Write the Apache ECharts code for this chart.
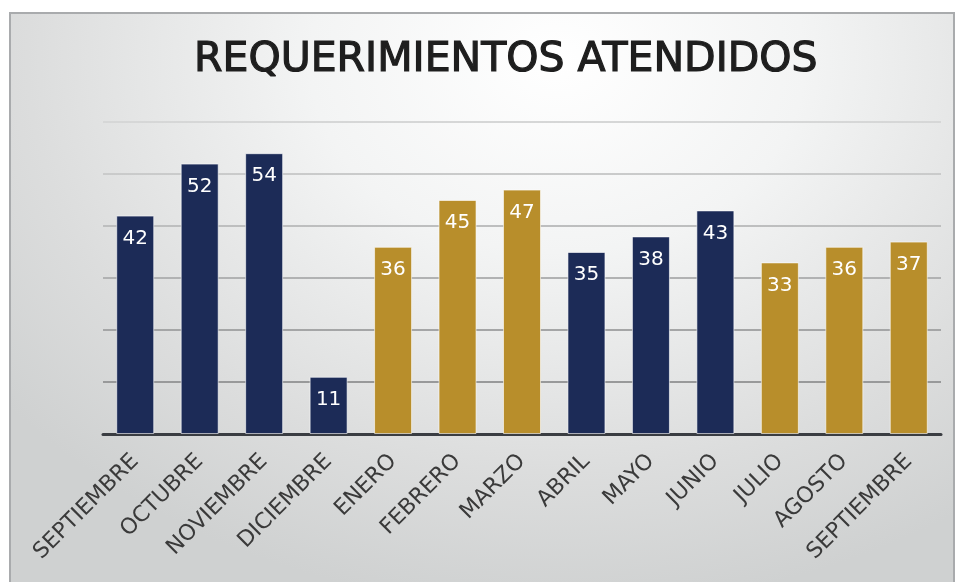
<!DOCTYPE html>
<html>
<head>
<meta charset="utf-8">
<script src="https://cdn.jsdelivr.net/npm/echarts@6/dist/echarts.min.js"></script>
<style>
  html, body { margin: 0; padding: 0; background: #fff; }
  #frame {
    position: absolute; left: 9px; top: 12px; width: 946px; height: 580px;
    border: 2px solid #a9abad; border-bottom: none; box-sizing: border-box;
    background: radial-gradient(ellipse 75% 95% at 58% 8%, #ffffff 0%, #f3f4f4 35%, #dcdddd 75%, #cfd1d1 100%);
  }
  #chart { position: absolute; left: 0; top: 0; width: 958px; height: 582px; }
</style>
</head>
<body>
<div id="frame"></div>
<div id="chart"></div>
<script>
  // meses y valores
  var months = ["SEPTIEMBRE", "OCTUBRE", "NOVIEMBRE", "DICIEMBRE", "ENERO", "FEBRERO",
    "MARZO", "ABRIL", "MAYO", "JUNIO", "JULIO", "AGOSTO", "SEPTIEMBRE"];
  var values = [42, 52, 54, 11, 36, 45, 47, 35, 38, 43, 33, 36, 37];
  // color de cada barra: 0 = azul, 1 = dorado
  var colorGroup = [0, 0, 0, 0, 1, 1, 1, 0, 0, 0, 1, 1, 1];
  var palette = ["#1c2b57", "#b88e2b"];

  var myChart = echarts.init(document.getElementById("chart"));
  var option = {
    backgroundColor: "transparent",
    animation: false,
    title: {
      text: "REQUERIMIENTOS ATENDIDOS",
      left: 189,
      top: 35,
      textStyle: {
        fontFamily: "DejaVu Sans",
        fontWeight: "normal",
        fontSize: 41,
        color: "#1e1e1e",
        textBorderColor: "#1e1e1e",
        textBorderWidth: 1.2,
      },
    },
    grid: { left: 103, right: 17, top: 122, bottom: 148 },
    xAxis: {
      type: "category",
      data: months,
      axisLine: { lineStyle: { color: "#3a3d42", width: 3 } },
      axisTick: { show: false },
      axisLabel: {
        interval: 0,
        rotate: 45,
        margin: 24,
        fontFamily: "DejaVu Sans",
        fontSize: 22,
        color: "#3a3a3a",
      },
    },
    yAxis: {
      type: "value",
      min: 0,
      max: 60,
      interval: 10,
      axisLabel: { show: false },
      axisLine: { show: false },
      splitLine: {
        lineStyle: {
          width: 2,
          color: new echarts.graphic.LinearGradient(0, 122, 0, 434, [
            { offset: 0, color: "#d6d7d7" },
            { offset: 1, color: "#8c8d8e" },
          ], true),
        },
      },
    },
    series: [
      {
        type: "bar",
        barWidth: 38,
        data: values.map(function (v, i) {
          return { value: v, itemStyle: { color: palette[colorGroup[i]] } };
        }),
        itemStyle: { borderColor: "rgba(255,255,255,0.6)", borderWidth: 1 },
        label: {
          show: true,
          position: "insideTop",
          distance: 13,
          fontFamily: "DejaVu Sans",
          fontSize: 20,
          color: "#ffffff",
        },
      },
    ],
  };
  myChart.setOption(option);
</script>
</body>
</html>
